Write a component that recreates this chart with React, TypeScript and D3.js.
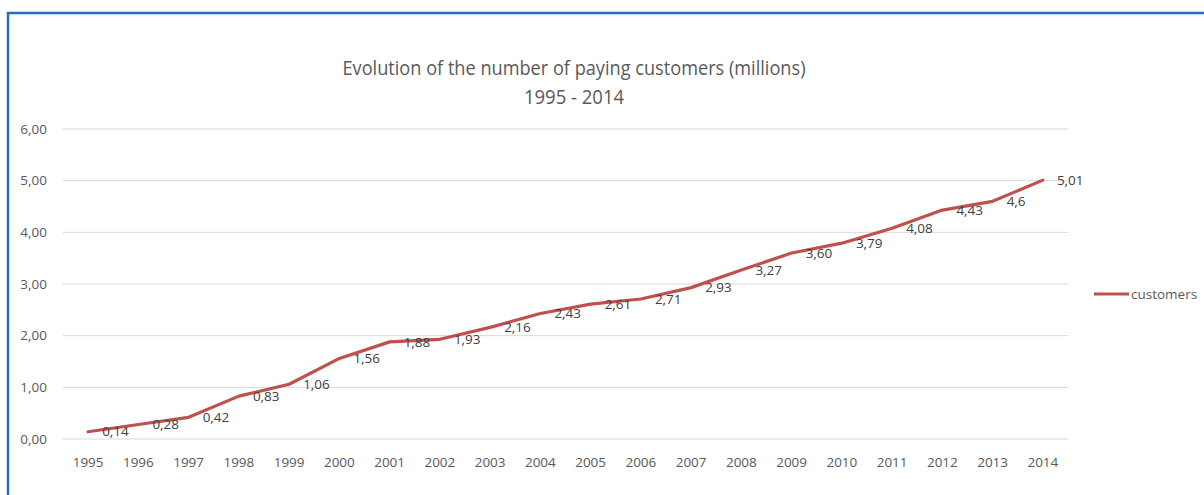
import React from "react";
import * as d3 from "d3";

const years = ["1995","1996","1997","1998","1999","2000","2001","2002","2003","2004","2005","2006","2007","2008","2009","2010","2011","2012","2013","2014"];
const customers = [0.14,0.28,0.42,0.83,1.06,1.56,1.88,1.93,2.16,2.43,2.61,2.71,2.93,3.27,3.60,3.79,4.08,4.43,4.6,5.01];
const valueLabels = ["0,14","0,28","0,42","0,83","1,06","1,56","1,88","1,93","2,16","2,43","2,61","2,71","2,93","3,27","3,60","3,79","4,08","4,43","4,6","5,01"];
const yTicks = [0,1,2,3,4,5,6];
const yTickLabels = ["0,00","1,00","2,00","3,00","4,00","5,00","6,00"];
const titleLines = ["Evolution of the number of paying customers (millions)", "1995 - 2014"];
const seriesName = "customers";

const W = 1204, H = 495;
const FONT = "'Open Sans', 'Noto Sans', sans-serif";
const TEXT = "#595959";
const LINE = "#C0504D";
const FS = 13.5;

export default function App() {
  const x = d3.scaleBand().domain(years).range([63, 1068]);
  const y = d3.scaleLinear().domain([0, 6]).range([439, 129]);
  const cx = (yr: string) => (x(yr) as number) + x.bandwidth() / 2;
  const line = d3.line<number>().x((_, i) => cx(years[i])).y(d => y(d));

  return (
    <svg width={W} height={H} style={{ position: "absolute", left: 0, top: 0, background: "#fff" }}>
      <rect x={0} y={0} width={W} height={H} fill="#fff" />
      <path d={`M8,${H + 5} L8,13 L${W + 5},13`} fill="none" stroke="#1F72C0" strokeWidth={2.5} />
      {titleLines.map((t, i) => (
        <text key={i} x={574} y={75 + i * 29} textAnchor="middle" fontFamily={FONT} fontSize={19.5} fill={TEXT}
          textLength={i === 0 ? 463 : 100} lengthAdjust="spacingAndGlyphs">{t}</text>
      ))}
      {yTicks.map((t, i) => (
        <g key={t}>
          <line x1={63} x2={1068} y1={y(t)} y2={y(t)} stroke="#D9D9D9" strokeWidth={1} />
          <text x={47} y={y(t)} dy="0.35em" textAnchor="end" fontFamily={FONT} fontSize={FS} fill={TEXT}>{yTickLabels[i]}</text>
        </g>
      ))}
      {years.map(yr => (
        <text key={yr} x={cx(yr)} y={467} textAnchor="middle" fontFamily={FONT} fontSize={FS} fill={TEXT}>{yr}</text>
      ))}
      <path d={line(customers) || ""} fill="none" stroke={LINE} strokeWidth={3.2} strokeLinejoin="round" strokeLinecap="round" />
      {customers.map((v, i) => (
        <text key={i} x={cx(years[i]) + 14} y={y(v)} dy="0.35em" fontFamily={FONT} fontSize={FS} fill="#404040">{valueLabels[i]}</text>
      ))}
      <line x1={1094} x2={1129} y1={294} y2={294} stroke={LINE} strokeWidth={3.2} />
      <text x={1131} y={294} dy="0.35em" fontFamily={FONT} fontSize={FS} fill={TEXT}>{seriesName}</text>
    </svg>
  );
}
